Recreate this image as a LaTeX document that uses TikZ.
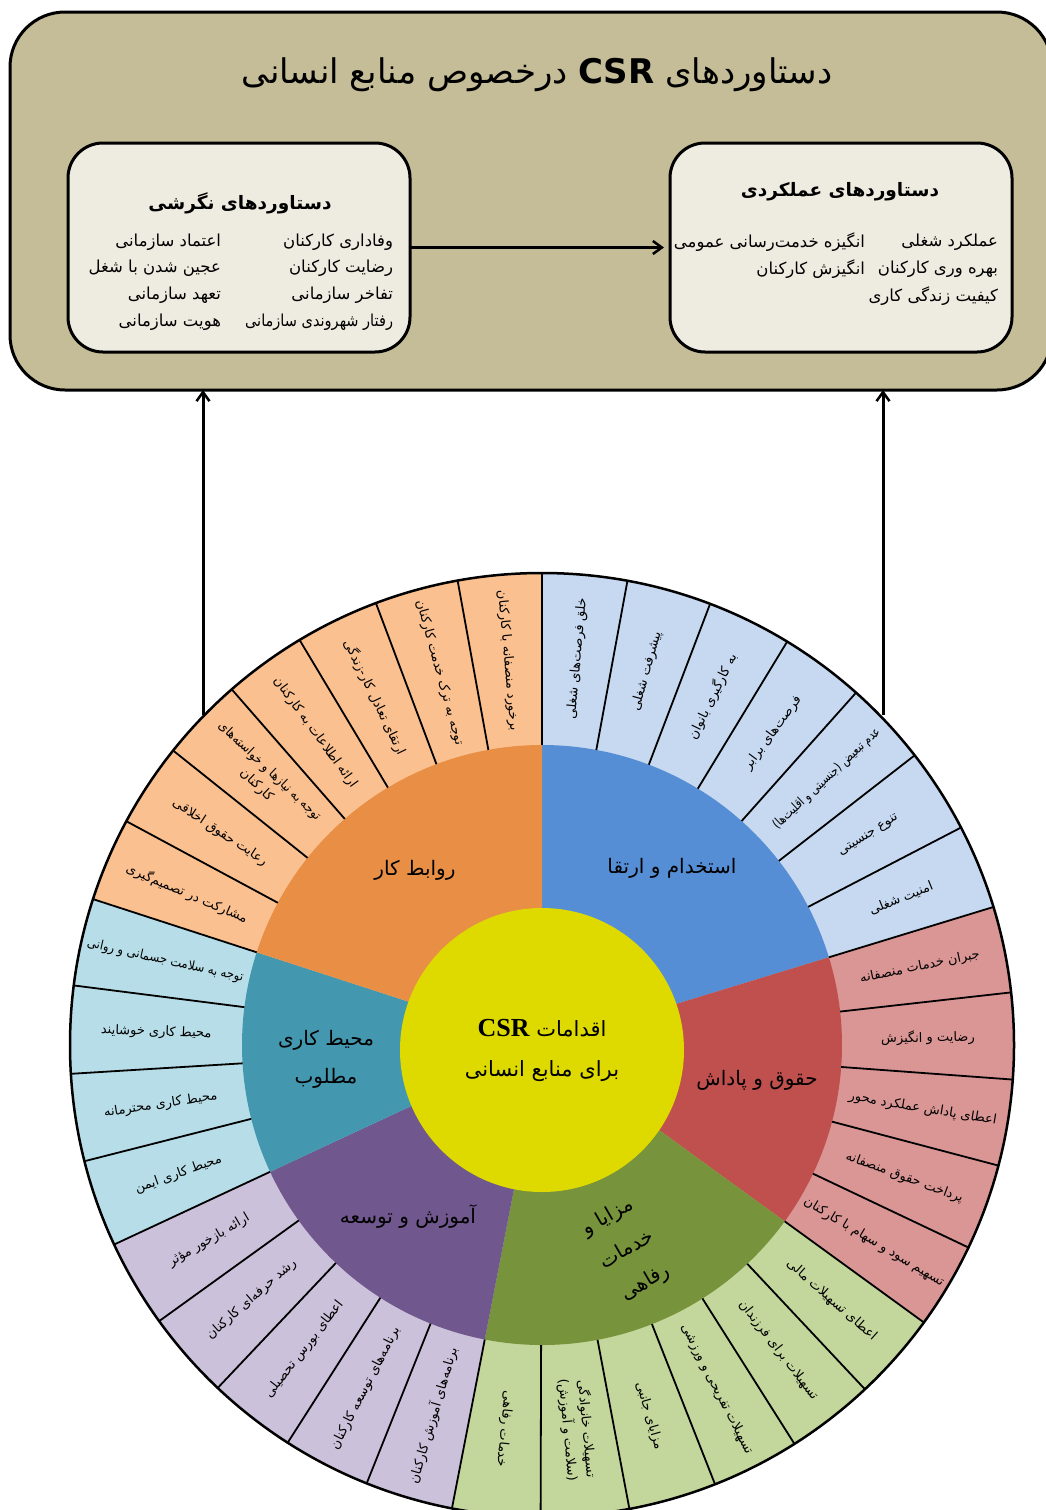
\documentclass[tikz,border=0pt]{standalone}
\usepackage{fontspec}
\setmainfont{DejaVu Sans}
\newfontfamily\fafont[Script=Arabic]{DejaVu Sans}
\newfontfamily\serifl{Liberation Serif}
\TeXXeTstate=1
\newcommand{\fa}[1]{{\fafont\beginR #1\endR}}
\usetikzlibrary{arrows.meta}
\definecolor{tanbg}{HTML}{C4BD97}
\definecolor{boxfill}{HTML}{EEECE1}
\definecolor{blueM}{HTML}{558ED5}
\definecolor{blueL}{HTML}{C6D9F1}
\definecolor{orangeM}{HTML}{E98E45}
\definecolor{orangeL}{HTML}{FAC090}
\definecolor{redM}{HTML}{C0504D}
\definecolor{redL}{HTML}{D99694}
\definecolor{greenM}{HTML}{77933C}
\definecolor{greenL}{HTML}{C3D69B}
\definecolor{purpleM}{HTML}{70578E}
\definecolor{purpleL}{HTML}{CCC1DA}
\definecolor{cyanM}{HTML}{4398AF}
\definecolor{cyanL}{HTML}{B7DEE8}
\definecolor{yel}{HTML}{DEDA00}
\begin{document}
\begin{tikzpicture}[x=1pt,y=1pt,
  every node/.style={inner sep=0pt, outer sep=0pt},
  bigbox/.style={draw=black, line width=3pt, fill=tanbg, rounded corners=55pt},
  tagbox/.style={draw=black, line width=3pt, fill=boxfill, rounded corners=35pt, minimum width=342pt, minimum height=209pt},
  arr/.style={line width=3pt, -{Straight Barb[length=9pt,width=13pt,line width=2.5pt]}},
  sep/.style={line width=1.8pt},
  slicetxt/.style={font=\fontsize{13}{19}\selectfont, align=center},
  midtxt/.style={font=\fontsize{20}{38}\selectfont, align=center},
  itemtxt/.style={font=\fontsize{16.5}{20}\selectfont, anchor=east},
  boxtitle/.style={font=\fontsize{18.5}{22}\selectfont\bfseries},
]
\useasboundingbox (0,0) rectangle (1046,-1510);
\fill[white] (0,0) rectangle (1046,-1510);

% top frame
\node[bigbox, minimum width=1042pt, minimum height=378pt, anchor=north west] (outer) at (10,-12) {};
\node[font=\fontsize{34}{38}\selectfont] (title) at (537,-75) {\fa{دستاوردهای \beginL\textbf{CSR}\endL{} درخصوص منابع انسانی}};

% inner boxes
\node[tagbox] (att) at (239,-247.5) {};
\node[tagbox] (perf) at (841,-247.5) {};

\node[boxtitle] (attT) at (240,-203) {\fa{دستاوردهای نگرشی}};
\node[itemtxt] (a1) at (393,-242) {\fa{وفاداری کارکنان}};
\node[itemtxt] (a2) at (393,-268) {\fa{رضایت کارکنان}};
\node[itemtxt] (a3) at (393,-295) {\fa{تفاخر سازمانی}};
\node[itemtxt] (a4) at (393,-322) {\scalebox{0.88}[1]{\fa{رفتار شهروندی سازمانی}}};
\node[itemtxt] (a5) at (221,-242) {\fa{اعتماد سازمانی}};
\node[itemtxt] (a6) at (221,-268) {\fa{عجین شدن با شغل}};
\node[itemtxt] (a7) at (221,-295) {\fa{تعهد سازمانی}};
\node[itemtxt] (a8) at (221,-322) {\fa{هویت سازمانی}};

\node[boxtitle] (perfT) at (840,-192) {\fa{دستاوردهای عملکردی}};
\node[itemtxt] (p1) at (998,-242) {\fa{عملکرد شغلی}};
\node[itemtxt] (p2) at (998,-269) {\fa{بهره وری کارکنان}};
\node[itemtxt] (p3) at (998,-296) {\fa{کیفیت زندگی کاری}};
\node[itemtxt] (p4) at (865,-242) {\fa{انگیزه خدمت‌رسانی عمومی}};
\node[itemtxt] (p5) at (865,-269) {\fa{انگیزش کارکنان}};

\draw[arr, shorten >=6pt] (att.east) -- (perf.west);

% wheel
\begin{scope}[shift={(542,-1045)}]
  \fill[blueL]   (0,0) -- (17:472) arc[start angle=17, end angle=90, radius=472] -- cycle;
  \fill[redL]    (0,0) -- (-36:472) arc[start angle=-36, end angle=17, radius=472] -- cycle;
  \fill[greenL]  (0,0) -- (-101:472) arc[start angle=-101, end angle=-36, radius=472] -- cycle;
  \fill[purpleL] (0,0) -- (-155:472) arc[start angle=-155, end angle=-101, radius=472] -- cycle;
  \fill[cyanL]   (0,0) -- (-198:472) arc[start angle=-198, end angle=-155, radius=472] -- cycle;
  \fill[orangeL] (0,0) -- (-270:472) arc[start angle=-270, end angle=-198, radius=472] -- cycle;

  \fill[blueM]   (0,0) -- (17:300) arc[start angle=17, end angle=90, radius=300] -- cycle;
  \fill[redM]    (0,0) -- (-36:300) arc[start angle=-36, end angle=17, radius=300] -- cycle;
  \fill[greenM]  (0,0) -- (-101:300) arc[start angle=-101, end angle=-36, radius=300] -- cycle;
  \fill[purpleM] (0,0) -- (-155:300) arc[start angle=-155, end angle=-101, radius=300] -- cycle;
  \fill[cyanM]   (0,0) -- (-198:300) arc[start angle=-198, end angle=-155, radius=300] -- cycle;
  \fill[orangeM] (0,0) -- (-270:300) arc[start angle=-270, end angle=-198, radius=300] -- cycle;

  \foreach \a in {90,79.57,69.14,58.71,48.29,37.86,27.43,17,6.4,-4.2,-14.8,-25.4,-36,-46.83,-57.67,-68.5,-79.33,-90.17,-101,-111.8,-122.6,-133.4,-144.2,-155,-165.75,-176.5,-187.25,-198,-208.3,-218.6,-228.9,-239.1,-249.4,-259.7}
    \draw[sep] (\a:300) -- (\a:472);
  \draw[line width=2.5pt] (0,0) circle[radius=472];

  % blue
  \node[slicetxt, rotate=84.79] (s01) at (84.79:388) {\fa{خلق فرصت‌های شغلی}};
  \node[slicetxt, rotate=74.36] (s02) at (74.36:388) {\fa{پیشرفت شغلی}};
  \node[slicetxt, rotate=63.93] (s03) at (63.93:388) {\fa{به کارگیری بانوان}};
  \node[slicetxt, rotate=53.5] (s04) at (53.5:388) {\fa{فرصت‌های برابر}};
  \node[slicetxt, rotate=43.07] (s05) at (43.07:390) {\scalebox{0.82}[1]{\fa{عدم تبعیض (جنسیتی و اقلیت‌ها)}}};
  \node[slicetxt, rotate=32.64] (s06) at (32.64:388) {\fa{تنوع جنسیتی}};
  \node[slicetxt, rotate=22.21] (s07) at (22.21:388) {\fa{امنیت شغلی}};
  % red
  \node[slicetxt, rotate=11.7] (s08) at (11.7:386) {\fa{جبران خدمات منصفانه}};
  \node[slicetxt, rotate=1.1] (s09) at (1.1:386) {\fa{رضایت و انگیزش}};
  \node[slicetxt, rotate=-9.5] (s10) at (-9.5:386) {\fa{اعطای پاداش عملکرد محور}};
  \node[slicetxt, rotate=-20.1] (s11) at (-20.1:386) {\fa{پرداخت حقوق منصفانه}};
  \node[slicetxt, rotate=-30.7] (s12) at (-30.7:386) {\fa{تسهیم سود و سهام با کارکنان}};
  % green
  \node[slicetxt, rotate=-41.4] (s13) at (-41.4:386) {\fa{اعطای تسهیلات مالی}};
  \node[slicetxt, rotate=-52.25] (s14) at (-52.25:386) {\fa{تسهیلات برای فرزندان}};
  \node[slicetxt, rotate=-63.08] (s15) at (-63.08:386) {\fa{تسهیلات تفریحی و ورزشی}};
  \node[slicetxt, rotate=-73.9] (s16) at (-73.9:386) {\fa{مزایای جانبی}};
  \node[slicetxt, rotate=-84.75] (s17) at (-84.75:386) {\fa{تسهیلات خانوادگی}\\\fa{(سلامت و آموزش)}};
  \node[slicetxt, rotate=-95.6] (s18) at (-95.6:386) {\fa{خدمات رفاهی}};
  % purple
  \node[slicetxt, rotate=73.6] (s19) at (-106.4:386) {\fa{برنامه‌های آموزش کارکنان}};
  \node[slicetxt, rotate=62.8] (s20) at (-117.2:386) {\fa{برنامه‌های توسعه کارکنان}};
  \node[slicetxt, rotate=52] (s21) at (-128:386) {\fa{اعطای بورس تحصیلی}};
  \node[slicetxt, rotate=41.2] (s22) at (-138.8:386) {\fa{رشد حرفه‌ای کارکنان}};
  \node[slicetxt, rotate=30.4] (s23) at (-149.6:386) {\fa{ارائه بازخور مؤثر}};
  % cyan
  \node[slicetxt, rotate=19.6] (s24) at (199.6:386) {\fa{محیط کاری ایمن}};
  \node[slicetxt, rotate=8.9] (s25) at (188.9:386) {\fa{محیط کاری محترمانه}};
  \node[slicetxt, rotate=-1.9] (s26) at (178.1:386) {\fa{محیط کاری خوشایند}};
  \node[slicetxt, rotate=-12.6] (s27) at (167.4:386) {\scalebox{0.9}[1]{\fa{توجه به سلامت جسمانی و روانی}}};
  % orange
  \node[slicetxt, rotate=-23.1] (s28) at (156.9:386) {\fa{مشارکت در تصمیم‌گیری}};
  \node[slicetxt, rotate=-33.4] (s29) at (146.6:386) {\fa{رعایت حقوق اخلاقی}};
  \node[slicetxt, rotate=-43.7] (s30) at (136.3:386) {\scalebox{0.92}[1]{\fa{توجه به نیازها و خواسته‌های}}\\\fa{کارکنان}};
  \node[slicetxt, rotate=-54] (s31) at (126:386) {\fa{ارائه اطلاعات به کارکنان}};
  \node[slicetxt, rotate=-64.3] (s32) at (115.7:386) {\fa{ارتقای تعادل کار-زندگی}};
  \node[slicetxt, rotate=-74.6] (s33) at (105.4:386) {\fa{توجه به ترک خدمت کارکنان}};
  \node[slicetxt, rotate=-84.9] (s34) at (95.1:386) {\fa{برخورد منصفانه با کارکنان}};
\end{scope}

% middle ring labels
\node[midtxt] (mOr) at (415,-870) {\fa{روابط کار}};
\node[midtxt] (mBl) at (672,-868) {\fa{استخدام و ارتقا}};
\node[midtxt] (mRd) at (757,-1080) {\fa{حقوق و پاداش}};
\node[midtxt, rotate=30] (mGr) at (627,-1250) {\fa{مزایا و}\\\fa{خدمات}\\\fa{رفاهی}};
\node[midtxt] (mPu) at (408,-1217) {\fa{آموزش و توسعه}};
\node[midtxt] (mCy) at (326,-1059) {\fa{محیط کاری}\\\fa{مطلوب}};

% core
\node[circle, fill=yel, minimum size=284pt, align=center, font=\fontsize{21}{40}\selectfont] (core) at (542,-1050)
  {\fa{اقدامات \beginL{\serifl\bfseries\fontsize{26}{40}\selectfont CSR}\endL}\\\fa{برای منابع انسانی}};

% arrows to the frame
\coordinate (wl) at (203,-715);
\coordinate (wr) at (883,-715);
\draw[arr] (wl) -- (wl |- outer.south);
\draw[arr] (wr) -- (wr |- outer.south);
\end{tikzpicture}
\end{document}
